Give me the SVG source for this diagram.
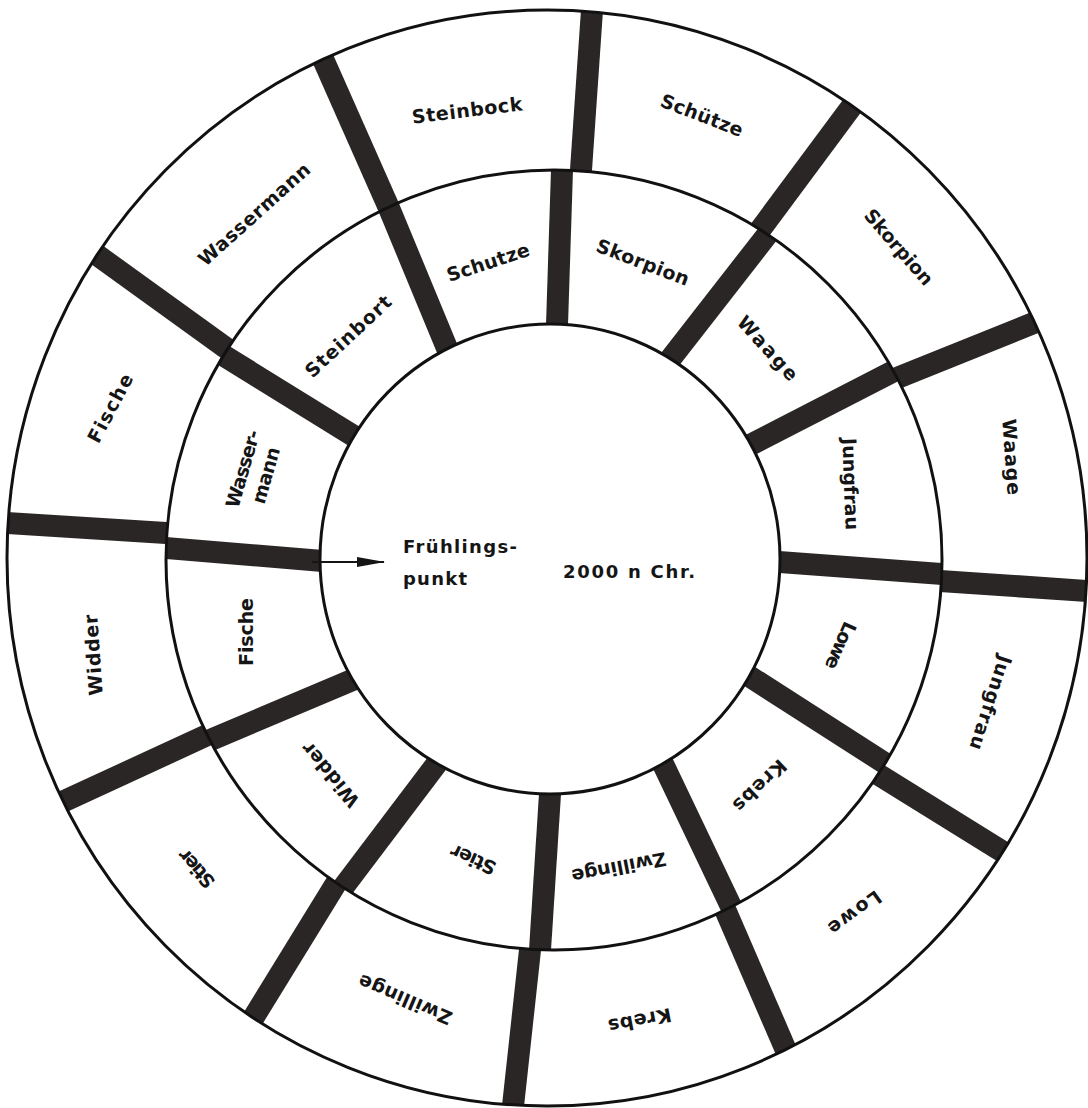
<svg xmlns="http://www.w3.org/2000/svg" width="1088" height="1108" viewBox="0 0 1088 1108">
<defs>
<style>
.bar{stroke:#2b2626;stroke-width:22;stroke-linecap:butt}
.ring{fill:none;stroke:#111;stroke-width:3}
.lbl{font-family:"DejaVu Sans","Liberation Sans",sans-serif;font-weight:bold;font-size:19px;fill:#151515;text-anchor:middle;dominant-baseline:central}
.ctr{font-family:"DejaVu Sans","Liberation Sans",sans-serif;font-weight:bold;font-size:18px;fill:#151515}
</style>
<clipPath id="outerBand">
<path clip-rule="evenodd" d="M7,558 a540,548 0 1,0 1080,0 a540,548 0 1,0 -1080,0 Z M166,560 a388,390 0 1,0 776,0 a388,390 0 1,0 -776,0 Z"/>
</clipPath>
<clipPath id="innerBand">
<path clip-rule="evenodd" d="M166,560 a388,390 0 1,0 776,0 a388,390 0 1,0 -776,0 Z M320,559 a230,235 0 1,0 460,0 a230,235 0 1,0 -460,0 Z"/>
</clipPath>
<marker id="ah" viewBox="0 0 28 12" refX="27" refY="6" markerWidth="28" markerHeight="12" markerUnits="userSpaceOnUse" orient="auto">
<path d="M0,1 L28,6 L0,11 Z" fill="#151515"/>
</marker>
</defs>
<rect width="1088" height="1108" fill="#fff"/>
<g id="dividers">
<g id="outer-dividers" clip-path="url(#outerBand)">
<line class="bar" x1="579.9" y1="186" x2="593.1" y2="-6"/>
<line class="bar" x1="750.5" y1="242.8" x2="864.5" y2="89.2"/>
<line class="bar" x1="882.1" y1="384" x2="1060.9" y2="312"/>
<line class="bar" x1="925.2" y1="580" x2="1102.8" y2="592"/>
<line class="bar" x1="862.8" y1="764.8" x2="1021.2" y2="863.2"/>
<line class="bar" x1="717.9" y1="892.9" x2="791.1" y2="1062.1"/>
<line class="bar" x1="531.7" y1="934.4" x2="511.3" y2="1121.6"/>
<line class="bar" x1="340" y1="877" x2="244" y2="1033"/>
<line class="bar" x1="214.9" y1="731.6" x2="48.1" y2="808.4"/>
<line class="bar" x1="182" y1="534" x2="-10" y2="522"/>
<line class="bar" x1="245.9" y1="362.3" x2="91.1" y2="250.7"/>
<line class="bar" x1="395.2" y1="222" x2="320.8" y2="54"/>
</g>
<g id="inner-dividers" clip-path="url(#innerBand)">
<line class="bar" x1="556.5" y1="340.5" x2="562.5" y2="154.5"/>
<line class="bar" x1="665.1" y1="365.7" x2="783.9" y2="213.3"/>
<line class="bar" x1="742.2" y1="449.1" x2="907.8" y2="363.9"/>
<line class="bar" x1="761.6" y1="560.8" x2="958.4" y2="575.2"/>
<line class="bar" x1="738.9" y1="669.6" x2="896.1" y2="770.4"/>
<line class="bar" x1="657.6" y1="752.6" x2="734.4" y2="913.4"/>
<line class="bar" x1="551" y1="778.4" x2="539" y2="965.6"/>
<line class="bar" x1="444.6" y1="753.3" x2="329.4" y2="905.7"/>
<line class="bar" x1="364.2" y1="675" x2="193.8" y2="747"/>
<line class="bar" x1="150.4" y1="546.7" x2="337.6" y2="562.3"/>
<line class="bar" x1="212.9" y1="348.9" x2="370.1" y2="446.1"/>
<line class="bar" x1="455" y1="367.5" x2="383" y2="193.5"/>
</g>
</g>
<g id="rings">
<ellipse class="ring" cx="547" cy="558" rx="540" ry="548"/>
<ellipse class="ring" cx="554" cy="560" rx="388" ry="390"/>
<ellipse class="ring" cx="550" cy="559" rx="230" ry="235"/>
</g>
<g id="outer-steinbock"><text class="lbl" transform="translate(467,110) rotate(-7)" textLength="111">Steinbock</text></g>
<g id="outer-schuetze"><text class="lbl" transform="translate(702,115) rotate(21)" textLength="87">Schütze</text></g>
<g id="outer-skorpion"><text class="lbl" transform="translate(899,247) rotate(49)" textLength="94">Skorpion</text></g>
<g id="outer-waage"><text class="lbl" transform="translate(1012,457) rotate(86)" textLength="76">Waage</text></g>
<g id="outer-jungfrau"><text class="lbl" transform="translate(991,703) rotate(108)" textLength="98">Jungfrau</text></g>
<g id="outer-loewe"><text class="lbl" transform="translate(855,913) rotate(144)" textLength="61">Lowe</text></g>
<g id="outer-krebs"><text class="lbl" transform="translate(640,1021) rotate(169)" textLength="64">Krebs</text></g>
<g id="outer-zwillinge"><text class="lbl" transform="translate(405,1000) rotate(203)" textLength="100">Zwillinge</text></g>
<g id="outer-stier"><text class="lbl" transform="translate(196,869) rotate(228)" textLength="45">Stier</text></g>
<g id="outer-widder"><text class="lbl" transform="translate(93,655) rotate(266)" textLength="81">Widder</text></g>
<g id="outer-fische"><text class="lbl" transform="translate(110,408) rotate(-62)" textLength="75">Fische</text></g>
<g id="outer-wassermann"><text class="lbl" transform="translate(254,214) rotate(-42)" textLength="143">Wassermann</text></g>
<g id="inner-schutze"><text class="lbl" transform="translate(488,262) rotate(-18)" textLength="86">Schutze</text></g>
<g id="inner-skorpion"><text class="lbl" transform="translate(643,262) rotate(21)" textLength="98">Skorpion</text></g>
<g id="inner-waage"><text class="lbl" transform="translate(768,348) rotate(48)" textLength="80">Waage</text></g>
<g id="inner-jungfrau"><text class="lbl" transform="translate(851,484) rotate(88)" textLength="92">Jungfrau</text></g>
<g id="inner-lowe"><text class="lbl" transform="translate(841,646) rotate(114)" textLength="50">Lowe</text></g>
<g id="inner-krebs"><text class="lbl" transform="translate(760,786) rotate(136)" textLength="66">Krebs</text></g>
<g id="inner-zwillinge"><text class="lbl" transform="translate(619,868) rotate(169)" textLength="96">Zwillinge</text></g>
<g id="inner-stier"><text class="lbl" transform="translate(473,860) rotate(204)" textLength="48">Stier</text></g>
<g id="inner-widder"><text class="lbl" transform="translate(330,775) rotate(230)" textLength="78">Widder</text></g>
<g id="inner-fische"><text class="lbl" transform="translate(246,632) rotate(270)" textLength="68">Fische</text></g>
<g id="inner-wassermann"><text class="lbl" transform="translate(254,472) rotate(-74)"><tspan x="0" y="-12" textLength="80">Wasser-</tspan><tspan x="0" y="12" textLength="58">mann</tspan></text></g>
<g id="inner-steinbort"><text class="lbl" transform="translate(348,336) rotate(-43)" textLength="110">Steinbort</text></g>
<g id="center">
<text class="ctr" x="403" y="553" textLength="114">Frühlings-</text>
<text class="ctr" x="403" y="585" textLength="64">punkt</text>
<text class="ctr" x="563" y="578" textLength="132">2000 n Chr.</text>
</g>
<g id="connectors">
<line x1="312" y1="562" x2="384" y2="562" stroke="#151515" stroke-width="2" marker-end="url(#ah)"/>
</g>
</svg>
